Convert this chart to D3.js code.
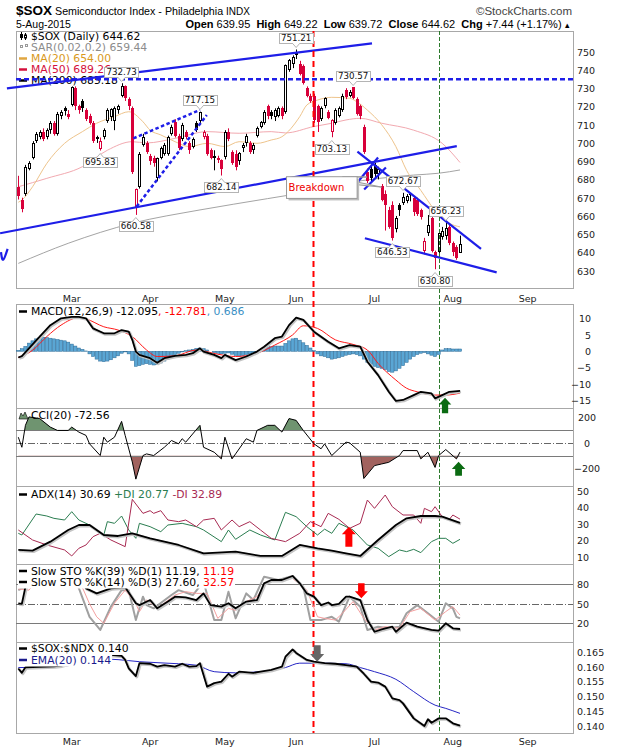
<!DOCTYPE html>
<html lang="en">
<head>
<meta charset="UTF-8">
<title>$SOX Semiconductor Index</title>
<script src="https://d3js.org/d3.v7.min.js"></script>
<style>
  body { margin: 0; background: #fff; }
  text { font-family: "DejaVu Sans", sans-serif; }
  .ax text { font-size: 9.5px; fill: #222; }
  .lg { font-size: 10.8px; }
  .hd { font-family: "Liberation Sans", Arial, sans-serif; }
</style>
</head>
<body>
<div id="chart"></div>
<script>
// trading days shown on the chart
const dates = [
  "2015-02-06","2015-02-09","2015-02-10","2015-02-11","2015-02-12","2015-02-13","2015-02-17","2015-02-18","2015-02-19","2015-02-20",
  "2015-02-23","2015-02-24","2015-02-25","2015-02-26","2015-02-27","2015-03-02","2015-03-03","2015-03-04","2015-03-05","2015-03-06",
  "2015-03-09","2015-03-10","2015-03-11","2015-03-12","2015-03-13","2015-03-16","2015-03-17","2015-03-18","2015-03-19","2015-03-20",
  "2015-03-23","2015-03-24","2015-03-25","2015-03-26","2015-03-27","2015-03-30","2015-03-31","2015-04-01","2015-04-02","2015-04-06",
  "2015-04-07","2015-04-08","2015-04-09","2015-04-10","2015-04-13","2015-04-14","2015-04-15","2015-04-16","2015-04-17","2015-04-20",
  "2015-04-21","2015-04-22","2015-04-23","2015-04-24","2015-04-27","2015-04-28","2015-04-29","2015-04-30","2015-05-01","2015-05-04",
  "2015-05-05","2015-05-06","2015-05-07","2015-05-08","2015-05-11","2015-05-12","2015-05-13","2015-05-14","2015-05-15","2015-05-18",
  "2015-05-19","2015-05-20","2015-05-21","2015-05-22","2015-05-26","2015-05-27","2015-05-28","2015-05-29","2015-06-01","2015-06-02",
  "2015-06-03","2015-06-04","2015-06-05","2015-06-08","2015-06-09","2015-06-10","2015-06-11","2015-06-12","2015-06-15","2015-06-16",
  "2015-06-17","2015-06-18","2015-06-19","2015-06-22","2015-06-23","2015-06-24","2015-06-25","2015-06-26","2015-06-29","2015-06-30",
  "2015-07-01","2015-07-02","2015-07-06","2015-07-07","2015-07-08","2015-07-09","2015-07-10","2015-07-13","2015-07-14","2015-07-15",
  "2015-07-16","2015-07-17","2015-07-20","2015-07-21","2015-07-22","2015-07-23","2015-07-24","2015-07-27","2015-07-28","2015-07-29",
  "2015-07-30","2015-07-31","2015-08-03","2015-08-04","2015-08-05"
];

// open, high, low, close per day
const ohlc = [
  [676,682,669,671],[669,670,662,664],[672,688,671,687],[686,690,685,689],[692,701,691,700],
  [701,706,700,705],[703,707,702,706],[706,708,701,702],[703,708,702,707],[707,712,705,711],
  [711,712,704,705],[705,717,704,716],[715,718,713,717],[719,720,715,717.5],[716,718,713,714],
  [721,731,720,730.5],[730,731,718,720],[720,721,716,718],[723,724,717,719],[718,719,712,713],
  [715,716,710,711],[711,712,700,701],[703,704,700,702],[696.5,703,695.83,701],[703,708,702,707],
  [712,719,711,718],[714,719,712,718.5],[712,720,707,719],[718,721,716,720],[726,732.73,725,731],
  [731,731.5,723,724.5],[724,725,718,720],[719,720,683,684],[665,675,660.58,674.5],[676,695,675,694],
  [699,705,698,703.5],[700,701,694,695],[693,694,688,690],[692,693,687,689],[681,692,679,691.5],
  [692,698,691,697],[694,700,693,699],[694,704,693,703.5],[705,710,704,709],[711.5,713,703,704],
  [704,705,696,697],[702,711,701,710],[706,707,702,703],[700,701,694,696],[698,703,697,702],
  [711,712,706,707],[712,717.15,711,717],[703,707,702,706],[704,705,693,694],[696,697,691,692],
  [692,696,685,693],[690.5,693,689,692],[690.5,691,682.14,686],[692.5,707,691,706],[706,708,701,702],
  [695,696,688,689],[694,696,685,687],[690,695,688,694.5],[697,700,695,699],[700,705,698,704],
  [700,701,694,695],[696,700,694,699],[704,709,703,708],[709,712,708,711.5],[711,718,710,717],
  [720,721,713,714.5],[717,718,713,715],[714,719,712,718],[715,720,714,719],[719,720,713,714.5],
  [717,743,716,742.5],[740,746,739,745.5],[743,748,741,747],[750,751.21,746,748],[743.5,745,737,738],
  [742,743,732,733],[730,731,725,726],[726,727,722,723],[726,727,711,712.6],[720,721,706,711.6],
  [713,720,712,719],[720,725,719,724.5],[717,718,713,713.5],[706,713,703.13,712.6],[711,719,710,718],
  [715,720,714,719],[718,727,717,726],[729,730,724,725],[726,729,725,728],[730.5,730.57,724,724.5],
  [724,725,715,716],[720,721,713,714.5],[709,710,694,695],[684,686,678,679],[686,688,679,681],
  [688,689,681,683],[683,687,680,686],[676.5,677.5,668,669],[672,674,652,666],[663,665,653,654],
  [666,668,646.53,648],[653,660,651,659],[666,667,660,663],[667,672.67,666,670.5],[668,672,667,671],
  [672,672.5,668,671.5],[670,671,660,662],[669,670,660,661],[663,664,658,659.5],[641,648,639,646.5],
  [650.5,660.5,649,655],[659,660,640,641],[640,641,630.8,637],[640.5,652,638,650.5],[648.5,654,647,652],
  [649,656.23,647,653.5],[654,655,644,645],[645,646,638,640.5],[643,644,636,637.18],[639.95,649.22,639.72,644.62]
];

// moving averages, [day index, value]
const ma20 = [[0,667.5],[1,668.7],[4,676],[8,688.8],[13,699.8],[18,706.2],[22,710.8],[27,714.4],[31,717.1],[35,711.6],[37,707],[40,704.4],[44,700.7],[48,698],[53,699.8],[58,698],[62,700.7],[67,699.8],[71,701.6],[74,703.4],[79,714.4],[81,720.8],[84,723.5],[88,725],[93,724.5],[95,722.6],[98,718],[102,710],[106,698],[109,685],[113,674],[117,663],[121,656],[124,654]];
const ma50 = [[0,676],[8,680.6],[18,687],[25,696],[32,700.7],[36,700],[44,702.5],[53,706.2],[62,705.3],[71,706.2],[75,705.5],[83,709],[88,710.8],[92,712.6],[96,713.5],[102,710.8],[111,707],[119,699.8],[124,689.3]];
const ma200 = [[0,634],[14,645],[32,656],[51,663.3],[70,669.5],[82,673.5],[92,677.9],[111,682.4],[118,683.4],[124,685.2]];

// MACD(12,26,9)
const macdLine = [[0,-1.9],[1,-1.5],[3,0.9],[6,4.5],[9,8],[12,10.1],[15,10.5],[17,10.5],[19,10.1],[21,7],[24,5.5],[27,5.5],[29,6.5],[31,6],[32,3.5],[33,-0.1],[34,-1.1],[37,-2.1],[39,-3.5],[41,-2.1],[44,-1.4],[47,-1.1],[49,-0.6],[51,0.9],[52,-0.1],[55,-1.1],[57,-2.1],[58,-1.1],[61,-2.7],[64,-1.6],[67,-0.1],[69,1.4],[72,4],[74,4.5],[76,8],[78,10.3],[80,9.6],[83,6],[87,2.9],[90,0.9],[93,1.9],[96,1.4],[98,-3.2],[101,-7.3],[104,-12.4],[106,-15.2],[108,-14.9],[111,-13.4],[113,-12.4],[116,-12.9],[117,-14.4],[119,-13.4],[121,-12.4],[124,-12.1]];
const macdSignal = [[0,-1.9],[4,0.3],[8,4.5],[12,8],[17,10.3],[19,9.9],[24,7.5],[28,6.5],[32,4.5],[36,0.4],[39,-1.6],[44,-1.4],[50,0.4],[56,-0.9],[61,-1.6],[67,-0.6],[72,1.9],[77,5],[80,7.8],[84,7],[89,3.5],[94,2.1],[98,0.4],[101,-3.7],[106,-8.8],[109,-11.3],[112,-12.4],[117,-13.4],[120,-13.4],[124,-12.8]];
const macdHist = [
  0.3,0.8,1.5,2.5,3.2, 3.8,4.2,4.3,4.2,4.0, 3.8,3.6,3.4,3.2,2.8, 2.2,1.6,1.0,0.6,0.1,
  -0.8,-1.6,-2.4,-3.0,-3.2, -3.0,-2.6,-2.0,-1.4,-0.6, -0.2,-0.8,-2.8,-4.6,-4.4, -4.0,-3.8,-4.0,-4.2,-4.0,
  -3.6,-3.0,-2.4,-1.6,-1.0, -0.6,-0.2,0.2,0.4,0.6, 0.9,1.0,0.8,0.4,0.0, -0.4,-0.6,-0.8,-0.6,-0.5,
  -0.9,-1.3,-1.5,-1.3,-1.0, -0.8,-0.6,-0.2,0.3,0.8, 1.2,1.4,1.6,1.6,1.6, 2.4,3.2,3.8,4.0,3.4,
  2.6,1.8,1.0,0.2,-0.8, -1.4,-1.6,-2.0,-2.4,-2.2, -2.0,-1.6,-1.2,-1.0,-0.8, -1.0,-1.4,-2.4,-3.4,-4.0,
  -4.6,-5.0,-5.2,-5.6,-6.2, -6.4,-6.0,-5.2,-4.4,-3.4, -2.4,-1.6,-1.0,-0.6,-0.4, -0.8,-1.2,-1.6,-1.0,0.4,
  0.8,0.8,0.7,0.7,0.7
];

// CCI(20)
const cci = [[0,44],[1,-35],[2,137],[3,203],[6,190],[9,123],[11,97],[14,97],[15,123],[17,84],[19,58],[20,-8],[23,-100],[24,44],[25,5],[27,44],[29,168],[30,58],[32,-150],[33,-285],[35,-100],[36,-87],[38,-100],[41,-35],[43,18],[45,-8],[46,32],[47,5],[51,137],[52,-35],[55,-74],[57,-126],[58,44],[60,-126],[61,-87],[64,32],[66,5],[67,97],[70,137],[72,137],[74,84],[76,190],[78,176],[80,97],[83,-8],[85,-47],[86,-8],[88,-100],[90,-47],[92,5],[93,0],[96,-74],[97,-280],[100,-179],[102,-166],[104,-153],[107,-100],[108,-61],[112,-61],[113,-126],[115,-74],[117,-193],[118,-100],[120,-53],[123,-126],[124,-73]];

// ADX(14), +DI, -DI
const adx = [[0,14.4],[4,14],[9,19.4],[14,26.4],[17,29.4],[20,29.4],[24,23.4],[28,22.8],[32,24.4],[37,21.4],[45,17.4],[52,12.4],[61,13.4],[68,10.8],[74,10.8],[79,17.4],[84,15.4],[88,14],[92,12.4],[96,10.8],[101,20.4],[106,29.4],[109,33.4],[113,34.8],[117,34.8],[119,34.4],[124,30.7]];
const plusDI = [[0,24.4],[1,23.4],[5,36],[8,34.8],[10,33.4],[13,32.4],[15,37.4],[17,32.4],[20,29.4],[24,23.4],[25,31.4],[27,30.4],[29,34.8],[31,26.4],[33,21.4],[34,30.4],[37,28.4],[40,25.4],[42,29.4],[46,30.4],[50,28.4],[52,26.4],[57,19.4],[59,26.4],[61,20.8],[65,26.4],[68,23.4],[72,20.4],[75,37],[78,34.4],[81,28.4],[84,23.4],[86,26.9],[88,24.4],[90,30.4],[92,28.4],[94,26.4],[98,17.4],[101,15.4],[104,10.4],[107,14.4],[109,13.4],[111,14.8],[113,12.8],[116,19.4],[118,21.4],[120,21.4],[122,18.4],[124,20.8]];
const minusDI = [[0,26.4],[4,20.4],[8,17.4],[13,14.4],[15,10.8],[17,15.4],[19,17.4],[21,22.4],[23,24.4],[26,20.4],[28,18.4],[30,16.4],[32,44.8],[35,36.4],[37,38],[38,36.4],[40,38],[42,32.4],[45,31.4],[47,32.4],[50,28.4],[52,32.4],[55,33.4],[57,26.4],[60,32.4],[62,28.4],[65,31.4],[68,26.4],[71,21.4],[75,19.4],[79,24.4],[82,31.4],[85,28.4],[87,36.4],[90,32.8],[93,27.4],[96,30.4],[98,44.4],[100,39.4],[103,47.4],[105,40.4],[108,35.4],[111,35.4],[113,30.4],[114,39.4],[116,37.4],[117,40.4],[119,34.4],[121,32.8],[122,35.4],[124,32.9]];

// Slow stochastics
const sto39 = [[0,50.8],[1,50],[2,76],[3,92],[6,97],[10,96],[14,98],[17,90],[19,73.8],[22,66],[26,73.8],[30,75.4],[33,50.8],[34,48],[37,55.8],[39,43],[42,53.5],[44,61],[47,60],[50,55.8],[52,66],[54,48],[57,45.6],[59,50.8],[61,43],[64,53.5],[67,55.8],[69,81.5],[71,86.6],[74,86.6],[77,92.8],[79,81.5],[81,66],[83,61],[85,48],[87,52],[88,48],[90,50],[92,61],[93,61],[96,55.8],[98,25],[100,7],[102,10.8],[105,14.8],[106,7],[109,21],[112,14.8],[116,9.8],[118,8.8],[120,20],[122,12.3],[124,11.2]];
const sto14K = [[0,71],[2,76],[3,85],[6,94],[9,90],[12,96],[15,92],[17,74],[20,30],[23,9.7],[26,45.6],[29,71],[31,71],[33,25],[35,61],[36,48],[38,43],[43,63.5],[45,71],[49,63.5],[52,84],[55,25],[57,25],[59,68.7],[61,27.6],[64,66],[66,55.8],[69,91.7],[73,86.6],[77,92.8],[80,76.4],[82,25],[85,25],[88,30],[90,22.5],[93,61],[96,45.6],[98,9.7],[101,14.8],[104,12.3],[107,14.8],[109,35.4],[112,48],[115,35.4],[118,22.5],[120,50.8],[122,43],[123,30],[124,27.6]];
const sto14D = [[0,73],[3,71],[5,85],[9,92],[13,94],[16,90],[18,75],[20,50],[22,30],[24,20],[27,51],[30,71],[33,50],[34,37.8],[36,56],[39,43],[44,63.5],[47,68.7],[50,66],[53,66],[56,27.6],[59,43],[61,40],[64,53.5],[67,61],[70,84],[73,86.6],[77,89],[81,71],[84,30],[86,27.6],[89,25],[91,35.4],[94,53.5],[97,27.6],[100,9.7],[103,14.8],[107,12.3],[110,38],[113,43],[117,25],[120,38],[122,45.6],[124,32.6]];

// $SOX:$NDX ratio and its EMA(20)
const ratio = [[0,0.1595],[1,0.1580],[2,0.1599],[4,0.1600],[10,0.1602],[12,0.1605],[15,0.1615],[18,0.1625],[20,0.1635],[22,0.1641],[24,0.1635],[26,0.1641],[29,0.1638],[30,0.1624],[31,0.1595],[33,0.1569],[34,0.1613],[37,0.1611],[39,0.1601],[41,0.1606],[44,0.1601],[46,0.1611],[48,0.1601],[50,0.1603],[51,0.1613],[53,0.1533],[55,0.1545],[57,0.1550],[59,0.1577],[60,0.1567],[62,0.1584],[66,0.1580],[68,0.1584],[71,0.1590],[74,0.1601],[75,0.1635],[77,0.1660],[78,0.1648],[81,0.1624],[83,0.1618],[86,0.1613],[89,0.1611],[92,0.1606],[95,0.1601],[97,0.1577],[99,0.1550],[101,0.1547],[103,0.1533],[105,0.1493],[107,0.1487],[108,0.1476],[111,0.1425],[114,0.1399],[115,0.1422],[116,0.1410],[118,0.1425],[120,0.1425],[122,0.1408],[124,0.1400]];
const ratioEma = [[0,0.1598],[11,0.1601],[18,0.1615],[21,0.1628],[28,0.1625],[34,0.1618],[45,0.1611],[50,0.1606],[55,0.1584],[61,0.1580],[68,0.1584],[75,0.1598],[79,0.1613],[84,0.1613],[92,0.1611],[96,0.1598],[100,0.1584],[106,0.1558],[111,0.1516],[117,0.1470],[120,0.1459],[124,0.1442]];

// month tick labels, [label, day index]
const monthTicks = [["Mar",15],["Apr",37],["May",58],["Jun",78],["Jul",100],["Aug",122],["Sep",143]];

// annotated highs and lows: [day index, text, 1 = above high / 0 = below low]
const peakLabels = [[78,"751.21",1],[29,"732.73",1],[51,"717.15",1],[23,"695.83",0],[33,"660.58",0],[57,"682.14",0],
  [88,"703.13",0],[94,"730.57",1],[108,"672.67",1],[105,"646.53",0],[120,"656.23",1],[117,"630.80",0]];

// hand drawn trend lines, [day index, price]
const trendLines = [
  { p: [[-3.2,729.9],[99.3,754.6]] },
  { p: [[-5.1,650.5],[123.1,698.3]] },
  { p: [[32.3,702.5],[51,718.1]], dash: "3.5,2.5" },
  { p: [[33.2,665.1],[52.9,715.3]], dash: "3.5,2.5" },
  { p: [[95.2,695.2],[129.9,641.9]] },
  { p: [[97.3,647.8],[134.3,629.1]] },
  { p: [[95.4,678.9],[101,692]] },
  { p: [[97.1,674.5],[103.2,686.6]] }
];
const resistance = 734.9;

// --- layout ---
const RED = "#d8003a";
const L = 16, R = 573;
const svg = d3.select("#chart").append("svg").attr("width", 620).attr("height", 750);
const x = d3.scaleLinear().domain([0, 124]).range([18.3, 460]);

const P = { main: [31, 288], macd: [304, 408], cci: [408, 486], adx: [486, 564], sto: [564, 642], ratio: [642, 733] };
const Y = {
  main: d3.scaleLinear().domain([630, 750]).range([270.7, 51.7]),
  macd: d3.scaleLinear().domain([-15, 10]).range([400.3, 318.6]),
  cci: d3.scaleLinear().domain([-200, 200]).range([468.3, 417.3]),
  adx: d3.scaleLinear().domain([10, 50]).range([557.3, 490.7]),
  sto: d3.scaleLinear().domain([20, 80]).range([623.3, 584.3]),
  ratio: d3.scaleLinear().domain([0.140, 0.165]).range([725.7, 652.3])
};

const defs = svg.append("defs");
Object.entries(P).forEach(([k, [t, b]]) => {
  defs.append("clipPath").attr("id", "clip-" + k).append("rect")
    .attr("x", L).attr("y", t).attr("width", R - L).attr("height", b - t);
});
const layer = k => svg.append("g").attr("clip-path", `url(#clip-${k})`);

const line = (y, curve) => d3.line().x(d => x(d[0])).y(d => y(d[1])).curve(curve || d3.curveLinear);
function path(g, data, y, color, w, curve) {
  return g.append("path").datum(data).attr("fill", "none").attr("stroke", color)
    .attr("stroke-width", w).attr("stroke-linejoin", "round").attr("d", line(y, curve));
}
function shadowPath(g, data, y, color, w) {
  path(g, data, y, "#c4c4c4", w + 1).attr("transform", "translate(1,1)");
  return path(g, data, y, color, w);
}

// panel frames
Object.values(P).forEach(([t, b]) => {
  svg.append("rect").attr("x", L + 0.5).attr("y", t + 0.5).attr("width", R - L).attr("height", b - t)
    .attr("fill", "none").attr("stroke", "#a8a8a8");
});

// right-hand axes
function axis(k, ticks, fmt, anchor, xPos) {
  const g = svg.append("g").attr("class", "ax")
    .call(d3.axisRight(Y[k]).tickValues(ticks).tickSize(0).tickFormat(fmt));
  g.select(".domain").remove();
  g.selectAll("text").attr("x", xPos).attr("dy", "0.35em").attr("text-anchor", anchor);
}
axis("main", d3.range(630, 751, 10), d3.format("d"), "start", 577);
axis("macd", [-15, -10, -5, 0, 5, 10], d3.format("d"), "end", 591);
axis("cci", [-200, 0, 200], d3.format("d"), "middle", 587);
axis("adx", [10, 20, 30, 40, 50], d3.format("d"), "start", 577);
axis("sto", [20, 50, 80], d3.format("d"), "start", 577);
axis("ratio", [0.140, 0.145, 0.150, 0.155, 0.160, 0.165], d3.format(".3f"), "start", 577);

// month labels
[[301.5], [745]].forEach(([yy]) => {
  svg.append("g").selectAll("text").data(monthTicks).join("text")
    .attr("x", d => x(d[1])).attr("y", yy).attr("text-anchor", "middle")
    .attr("font-size", 9.5).attr("fill", "#222").text(d => d[0]);
});

// legend helper
function legend(px, py, parts, opts = {}) {
  const g = svg.append("g");
  const t = g.append("text").attr("class", "lg").attr("x", px).attr("y", py);
  parts.forEach(p => t.append("tspan").attr("fill", p[1]).text(p[0]));
  if (opts.bg) {
    const b = t.node().getBBox();
    g.insert("rect", "text").attr("x", b.x - 13).attr("y", b.y + 1).attr("width", b.width + 14)
      .attr("height", b.height - 1).attr("fill", "#fff");
  }
  if (opts.icon) g.append("line").attr("x1", 19).attr("x2", 27).attr("y1", py - 3.5).attr("y2", py - 3.5)
    .attr("stroke", opts.icon).attr("stroke-width", 2.5);
  return g;
}

// header
const hd = svg.append("g").attr("class", "hd");
hd.append("text").attr("x", 16).attr("y", 15).attr("font-size", 13.5).attr("font-weight", "bold")
  .attr("class", "hd").text("$SOX");
hd.append("text").attr("x", 55).attr("y", 15).attr("font-size", 10.7).attr("class", "hd")
  .text("Semiconductor Index - Philadelphia");
hd.append("text").attr("x", 226).attr("y", 15).attr("font-size", 10).attr("class", "hd").text("INDX");
hd.append("text").attr("x", 572).attr("y", 15).attr("font-size", 11.5).attr("text-anchor", "end")
  .attr("fill", "#444").attr("class", "hd").text("©StockCharts.com");
hd.append("text").attr("x", 16).attr("y", 28).attr("font-size", 10.5).attr("class", "hd").text("5-Aug-2015");
const q = hd.append("text").attr("x", 571).attr("y", 28).attr("font-size", 11)
  .attr("text-anchor", "end").attr("class", "hd");
[["Open", 1], [" 639.95  ", 0], ["High", 1], [" 649.22  ", 0], ["Low", 1], [" 639.72  ", 0],
 ["Close", 1], [" 644.62  ", 0], ["Chg", 1], [" +7.44 (+1.17%)", 0]].forEach(([s, b]) => {
  q.append("tspan").attr("font-weight", b ? "bold" : "normal").attr("xml:space", "preserve").text(s);
});
q.append("tspan").attr("font-size", 7.5).attr("dx", 2).text("▲");

// --- main price panel ---
const mg = layer("main");
path(mg, ma200, Y.main, "#a4a4a4", 1, d3.curveMonotoneX);
path(mg, ma50, Y.main, "#f2a9b0", 1, d3.curveMonotoneX);
path(mg, ma20, Y.main, "#eec48c", 1, d3.curveMonotoneX);

const candle = mg.selectAll("g.c").data(ohlc).join("g").attr("class", "c");
candle.each(function (d, i) {
  const [o, h, l, c] = d;
  const prev = i > 0 ? ohlc[i - 1][3] : o;
  const col = c < prev ? RED : "#000";
  const cx = Math.round(x(i));
  const g = d3.select(this);
  g.append("line").attr("x1", cx + 0.5).attr("x2", cx + 0.5)
    .attr("y1", Y.main(h)).attr("y2", Y.main(l)).attr("stroke", col);
  const yt = Math.round(Y.main(Math.max(o, c))), yb = Math.round(Y.main(Math.min(o, c)));
  if (c > o) {
    g.append("rect").attr("x", cx - 0.5).attr("y", yt + 0.5).attr("width", 2)
      .attr("height", Math.max(yb - yt - 1, 1)).attr("fill", "#fff").attr("stroke", col);
  } else {
    g.append("rect").attr("x", cx - 1).attr("y", yt).attr("width", 3)
      .attr("height", Math.max(yb - yt, 1)).attr("fill", col);
  }
});

// main legend
const mlg = svg.append("g");
legend(31, 40, [["$SOX (Daily) 644.62", "#000"]]);
mlg.append("line").attr("x1", 21.5).attr("x2", 21.5).attr("y1", 32).attr("y2", 40).attr("stroke", "#000");
mlg.append("rect").attr("x", 20).attr("y", 34).attr("width", 3).attr("height", 4).attr("fill", "#000");
mlg.append("line").attr("x1", 25.5).attr("x2", 25.5).attr("y1", 33).attr("y2", 40).attr("stroke", "#000");
mlg.append("rect").attr("x", 24.5).attr("y", 35).attr("width", 2).attr("height", 3).attr("fill", "#fff").attr("stroke", "#000");
legend(31, 51, [["SAR(0.02,0.2) 659.44", "#8c8c8c"]]);
mlg.append("rect").attr("x", 20.5).attr("y", 45.5).attr("width", 2).attr("height", 2).attr("fill", "none").attr("stroke", "#999");
mlg.append("rect").attr("x", 25.5).attr("y", 44.5).attr("width", 2).attr("height", 2).attr("fill", "none").attr("stroke", "#999");
legend(31, 62, [["MA(20) 654.00", "#d99a1c"]], { icon: "#e0a640" });
legend(31, 73, [["MA(50) 689.26", "#d4103c"]], { icon: "#d4103c" });
legend(31, 84, [["MA(200) 685.18", "#000"]], { icon: "#000" });

// trend lines
const tl = svg.append("g").attr("stroke", "#1e1ee8").attr("fill", "none").attr("stroke-width", 2.2);
trendLines.forEach(t => {
  tl.append("path").attr("d", line(Y.main)(t.p)).attr("stroke-dasharray", t.dash || null)
    .attr("stroke-width", t.dash ? 2.5 : 2.2);
});
tl.append("line").attr("x1", L).attr("x2", R).attr("y1", Y.main(resistance)).attr("y2", Y.main(resistance))
  .attr("stroke-dasharray", "5,3").attr("stroke-width", 2.5);
tl.append("path").attr("d", line(Y.main, d3.curveBasis)([[-4.86, 640.2], [-4.4, 633.5], [-3.0, 642]]));

// vertical event lines
[{ i: 82.8, c: "#ff0000", w: 2, dash: "6,4" }, { i: 118.2, c: "#2c7a2c", w: 1, dash: "4,2" }].forEach(v => {
  svg.append("line").attr("x1", Math.round(x(v.i)) + 0.5).attr("x2", Math.round(x(v.i)) + 0.5)
    .attr("y1", P.main[0]).attr("y2", P.ratio[1]).attr("stroke", v.c)
    .attr("stroke-width", v.w).attr("stroke-dasharray", v.dash);
});

// high / low labels
const pl = svg.append("g");
peakLabels.forEach(([i, txt, hi]) => {
  const [o, h, l, c] = ohlc[i];
  const cx = x(i), yv = Y.main(hi ? h : l), bh = 10;
  const by = hi ? yv - 6.5 - bh : yv + 6.5;
  const g = pl.append("g");
  const t = g.append("text").attr("x", cx).attr("y", by + 8).attr("text-anchor", "middle")
    .attr("font-size", 8.7).attr("fill", "#111").text(txt);
  const w = t.node().getComputedTextLength() + 4;
  g.insert("rect", "text").attr("x", Math.round(cx - w / 2) + 0.5).attr("y", Math.round(by) + 0.5)
    .attr("width", Math.round(w)).attr("height", bh).attr("fill", "#fff").attr("stroke", "#b4b4b4");
  const ey = Math.round(hi ? by + bh : by) + 0.5, tip = hi ? ey + 4 : ey - 4;
  g.append("path").attr("d", `M${cx - 3.5},${ey}L${cx},${tip}L${cx + 3.5},${ey}`)
    .attr("fill", "#fff").attr("stroke", "#b4b4b4");
  g.append("line").attr("x1", cx - 3).attr("x2", cx + 3).attr("y1", ey).attr("y2", ey).attr("stroke", "#fff");
});

// breakdown callout
const bx = x(75.3), byy = Y.main(681.5);
const co = svg.append("g");
co.append("path").attr("d", `M${x(91)},${byy}L${x(93.3)},${byy}L${x(97.9)},${Y.main(681.3)}Z`)
  .attr("fill", "#e4e4e4").attr("stroke", "#9a9a9a");
co.append("path").attr("d", `M${x(93.3)},${byy + 4}L${x(95)},${byy + 8}L${x(102)},${Y.main(675.8)}Z`)
  .attr("fill", "#e4e4e4").attr("stroke", "#9a9a9a");
co.append("rect").attr("x", bx + 2).attr("y", byy + 2).attr("width", 70.6).attr("height", 21.7).attr("fill", "#bdbdbd");
co.append("rect").attr("x", bx).attr("y", byy).attr("width", 70.6).attr("height", 21.7)
  .attr("fill", "#fff").attr("stroke", "#9a9a9a");
co.append("text").attr("x", bx + 2).attr("y", byy + 14.5).attr("font-size", 10).attr("fill", "#ee0000").text("Breakdown");

// --- MACD ---
const gm = layer("macd");
gm.selectAll("rect").data(macdHist).join("rect")
  .attr("x", (d, i) => x(i) - 1.6).attr("width", 3.2)
  .attr("y", d => Math.min(Y.macd(0), Y.macd(d)))
  .attr("height", d => Math.abs(Y.macd(d) - Y.macd(0)))
  .attr("fill", "#5aa6d4").attr("stroke", "#2d6b96").attr("stroke-width", 0.5);
path(gm, macdSignal, Y.macd, "#ff1a1a", 1, d3.curveMonotoneX);
shadowPath(gm, macdLine, Y.macd, "#000", 1.8);
legend(31, 315, [["MACD(12,26,9) -12.095", "#000"], [", -12.781", "#ff0000"], [", 0.686", "#3a8fc4"]], { icon: "#000" });

// --- CCI ---
const gc = layer("cci");
[[100, 0, "#6f9470"], [-100, 1, "#a1625e"]].forEach(([lvl, dn, col], k) => {
  const id = "cci-fill-" + k;
  const [t, b] = P.cci;
  defs.append("clipPath").attr("id", id).append("rect").attr("x", L)
    .attr("y", dn ? Y.cci(lvl) : t).attr("width", R - L).attr("height", dn ? b - Y.cci(lvl) : Y.cci(lvl) - t);
  gc.append("path").datum(cci).attr("clip-path", `url(#${id})`).attr("fill", col)
    .attr("d", d3.area().x(d => x(d[0])).y0(Y.cci(lvl)).y1(d => Y.cci(d[1])));
});
[[100, null, "#7a7a7a"], [-100, null, "#7a7a7a"], [0, "7,2,1,2", "#666"]].forEach(([v, dash, col]) => {
  gc.append("line").attr("x1", L).attr("x2", R).attr("y1", Math.round(Y.cci(v)) + 0.5).attr("y2", Math.round(Y.cci(v)) + 0.5)
    .attr("stroke", col).attr("stroke-dasharray", dash);
});
path(gc, cci, Y.cci, "#000", 1);
legend(31, 419, [["CCI(20) -72.56", "#000"]]);
svg.append("path").attr("d", "M19,419L21,413L23,416L25,412L28,419Z").attr("fill", "#6f9470").attr("stroke", "#000").attr("stroke-width", 0.6);

// --- ADX ---
const ga = layer("adx");
path(ga, plusDI, Y.adx, "#2a7d50", 1);
path(ga, minusDI, Y.adx, "#a82a52", 1);
shadowPath(ga, adx, Y.adx, "#000", 1.8);
legend(31, 498, [["ADX(14) 30.69 ", "#000"], ["+DI 20.77 ", "#2a7d50"], ["-DI 32.89", "#a82a52"]], { icon: "#000" });

// --- Slow stochastics ---
const gs = layer("sto");
[[80, null, "#7a7a7a"], [20, null, "#7a7a7a"], [50, "7,2,1,2", "#666"]].forEach(([v, dash, col]) => {
  gs.append("line").attr("x1", L).attr("x2", R).attr("y1", Math.round(Y.sto(v)) + 0.5).attr("y2", Math.round(Y.sto(v)) + 0.5)
    .attr("stroke", col).attr("stroke-dasharray", dash);
});
path(gs, sto14K, Y.sto, "#a0a0a0", 2);
path(gs, sto14D, Y.sto, "#f4a0a0", 1);
shadowPath(gs, sto39, Y.sto, "#000", 1.8);
legend(31, 574.5, [["Slow STO %K(39) %D(1) 11.19, ", "#000"], ["11.19", "#ff0000"]], { bg: 1, icon: "#000" });
legend(31, 585.5, [["Slow STO %K(14) %D(3) 27.60, ", "#000"], ["32.57", "#ff0000"]], { bg: 1, icon: "#000" });

// --- $SOX:$NDX ---
const gr = layer("ratio");
path(gr, ratioEma, Y.ratio, "#2626c4", 1, d3.curveMonotoneX);
shadowPath(gr, ratio, Y.ratio, "#000", 1.8);
legend(31, 652, [["$SOX:$NDX 0.140", "#000"]], { bg: 1, icon: "#000" });
legend(31, 663.5, [["EMA(20) 0.144", "#1a1a8c"]], { bg: 1, icon: "#1a1a8c" });

// --- signal arrows ---
const arrows = [
  { k: "macd", i: 119.8, v: -14.2, dir: 1, c: "#0b6b12", w: 12.5, H: 15.5 },
  { k: "cci", i: 123.6, v: -148, dir: 1, c: "#0b6b12", w: 13.5, H: 14 },
  { k: "adx", i: 92.8, v: 28.4, dir: 1, c: "#ff0000", w: 14, H: 20 },
  { k: "sto", i: 96.3, v: 58.5, dir: -1, c: "#ff0000", w: 13, H: 15 },
  { k: "ratio", i: 83.9, v: 0.1618, dir: -1, c: "#666", w: 14, H: 16.5 }
];
arrows.forEach(a => {
  const cx = x(a.i), ty = Y[a.k](a.v), hh = a.w * 0.55, sw = a.w * 0.5, s = a.dir;
  const pts = [[0, 0], [a.w / 2, hh], [sw / 2, hh], [sw / 2, a.H], [-sw / 2, a.H], [-sw / 2, hh], [-a.w / 2, hh]]
    .map(([px, py]) => [cx + px, ty + s * py]);
  svg.append("polygon").attr("points", pts.map(p => p.join(",")).join(" ")).attr("fill", a.c);
});
</script>
</body>
</html>
